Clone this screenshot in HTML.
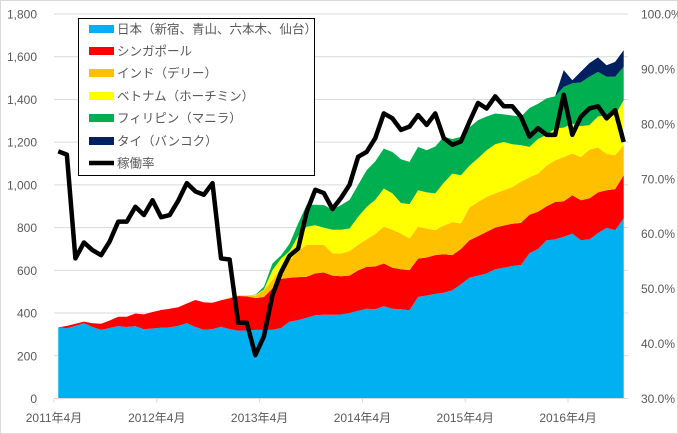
<!DOCTYPE html>
<html><head><meta charset="utf-8">
<style>
body{margin:0;background:#fff;}
svg{display:block;font-family:"Liberation Sans","Noto Sans CJK JP",sans-serif;}
</style></head>
<body>
<svg id="chart" width="678" height="434" viewBox="0 0 678 434">
<rect x="0.5" y="0.5" width="677" height="433" fill="#fff" stroke="#d9d9d9"/>
<g id="grid"></g><g id="areas"></g><g id="line"></g><g id="axes"></g><g id="legend"></g>
</svg>
<script>
const months = [];
for (let y = 2011, m = 4; months.length < 67; ) { months.push(y + '年' + m + '月'); m++; if (m > 12) { m = 1; y++; } }
const japan = [333,329,340,352,335,321,330,339,335,339,324,328,331,333,340,352,335,321,325,336,325,318,319,321,321,321,330,360,367,378,390,392,392,393,400,410,420,418,432,420,418,413,476,482,490,495,507,535,565,575,585,605,612,620,625,680,700,740,745,757,772,741,745,775,799,788,843];
const singapore = [0,11,10,8,17,29,35,44,48,59,70,77,83,87,87,93,126,129,123,124,144,162,159,149,154,194,230,205,201,192,196,198,183,179,175,190,196,200,200,192,187,188,179,178,181,180,164,165,176,185,195,195,198,198,197,180,174,160,175,166,179,187,192,190,176,192,202];
const india = [0,0,0,0,0,0,0,0,0,0,0,0,0,0,0,0,0,0,0,0,3,2,4,10,33,39,50,80,122,149,133,130,105,107,115,120,129,152,172,178,167,148,149,135,117,135,154,119,154,160,164,160,165,172,192,175,179,190,195,207,196,202,228,210,170,159,141];
const vietnam = [0,0,0,0,0,0,0,0,0,0,0,0,0,0,0,0,0,0,0,0,0,0,1,4,2,47,45,45,70,85,92,80,110,111,106,130,152,160,179,170,143,161,171,170,172,200,228,226,195,205,218,230,226,200,172,143,162,145,149,138,140,145,115,145,181,187,211];
const philippines = [0,0,0,0,0,0,0,0,0,0,0,0,0,0,0,0,0,0,0,0,0,0,0,2,13,31,15,35,60,103,96,105,95,115,134,150,172,180,187,194,205,198,203,197,220,215,162,180,180,178,158,144,129,135,133,182,165,170,151,191,188,205,226,209,180,180,156];
const thailand = [0,0,0,0,0,0,0,0,0,0,0,0,0,0,0,0,0,0,0,0,0,0,0,0,0,0,0,0,0,0,0,0,0,0,0,0,0,0,0,0,0,0,0,0,0,0,0,0,0,0,0,0,0,0,0,0,0,0,0,78,15,50,64,68,54,70,78];
const occupancy = [75.0,74.4,55.5,58.4,57.0,56.1,58.6,62.2,62.2,64.9,63.4,66.1,63.0,63.4,66.0,69.2,67.7,67.1,69.2,55.5,55.3,43.8,43.8,37.9,41.3,48.8,53.0,56.0,57.3,64.0,68.0,67.4,64.5,66.5,68.9,74.0,74.9,77.4,81.9,81.0,78.9,79.5,81.6,79.8,81.9,77.4,76.2,76.8,80.4,83.8,82.8,85.0,83.2,83.2,81.3,77.7,79.2,78.0,78.0,85.3,78.0,81.3,82.8,83.2,81.0,82.5,76.7];
const leftTicks = [0,200,400,600,800,1000,1200,1400,1600,1800];
const rightTicks = [30,40,50,60,70,80,90,100];
const xTickLabels = ['2011年4月','2012年4月','2013年4月','2014年4月','2015年4月','2016年4月'];

const seriesNames = ['日本（新宿、青山、六本木、仙台）','シンガポール','インド（デリー）','ベトナム（ホーチミン）','フィリピン（マニラ）','タイ（バンコク）'];
const seriesColors = ['#00b0f0','#ff0000','#ffc000','#ffff00','#00b050','#002060'];
const seriesKeys = ['japan','singapore','india','vietnam','philippines','thailand'];
const series = [japan, singapore, india, vietnam, philippines, thailand];

const NS = 'http://www.w3.org/2000/svg';
const X0 = 54, STEP = 8.567, YB = 398.5, YT = 14;
const xS = i => X0 + (i + 0.5) * STEP;
const yL = v => YB - (v / 1800) * (YB - YT);
const yR = p => YB - ((p - 30) / 70) * (YB - YT);
function mk(tag, attrs, parent) { const e = document.createElementNS(NS, tag); for (const k in attrs) e.setAttribute(k, attrs[k]); parent.appendChild(e); return e; }

const grid = document.getElementById('grid'), axes = document.getElementById('axes');
const xEnd = X0 + STEP * 67;
leftTicks.forEach(v => {
  if (v > 0) {
    const g = mk('line', {x1: X0, x2: xEnd, y1: yL(v), y2: yL(v), stroke: '#d9d9d9', 'stroke-width': 1}, grid);
    
    
  }
  const t = mk('text', {x: 37, y: yL(v) + 4.5, 'text-anchor': 'end', 'font-size': 12, fill: '#595959'}, axes);
  t.textContent = v.toLocaleString('en-US');
  
  
});
rightTicks.forEach(p => {
  const t = mk('text', {x: 641, y: yR(p) + 4.5, 'font-size': 12, fill: '#595959'}, axes);
  t.textContent = p.toFixed(1) + '%';
  
  
});
const xl = mk('line', {x1: X0, x2: xEnd, y1: YB, y2: YB, stroke: '#d9d9d9', 'stroke-width': 1}, axes);


xTickLabels.forEach((lab, k) => {
  const x = X0 + k * 12 * STEP;
  const tk = mk('line', {x1: x, x2: x, y1: YB, y2: YB + 4, stroke: '#d9d9d9'}, axes);
  
  
  const t = mk('text', {x: x, y: 422, 'text-anchor': 'middle', 'font-size': 12, fill: '#595959'}, axes);
  t.textContent = lab;
  
  
});

const areas = document.getElementById('areas');
const cum = months.map(() => 0);
series.forEach((s, si) => {
  const lower = cum.slice();
  s.forEach((v, i) => cum[i] += v);
  let d = '';
  cum.forEach((v, i) => d += (i ? 'L' : 'M') + xS(i).toFixed(2) + ',' + yL(v).toFixed(2));
  for (let i = lower.length - 1; i >= 0; i--) d += 'L' + xS(i).toFixed(2) + ',' + yL(lower[i]).toFixed(2);
  const p = mk('path', {d: d + 'Z', fill: seriesColors[si]}, areas);
  
  
});

const lineG = document.getElementById('line');
let ld = '';
occupancy.forEach((p, i) => ld += (i ? 'L' : 'M') + xS(i).toFixed(2) + ',' + yR(p).toFixed(2));
const ln = mk('path', {d: ld, fill: 'none', stroke: '#000', 'stroke-width': 4.5, 'stroke-linejoin': 'round'}, lineG);



const lg = document.getElementById('legend');
const box = mk('rect', {x: 78.5, y: 18.5, width: 236, height: 157, fill: '#fff', stroke: '#000', 'stroke-width': 1}, lg);


const rowsY = [29, 51, 73, 96, 118, 141, 163];
seriesNames.forEach((nm, k) => {
  const r = mk('rect', {x: 89, y: rowsY[k] - 4, width: 25, height: 8, fill: seriesColors[k]}, lg);
  
  
  const t = mk('text', {x: 117, y: rowsY[k] + 4.5, 'font-size': 12.5, fill: '#595959'}, lg);
  t.textContent = nm;
  
  
});
const ll = mk('line', {x1: 89, x2: 114, y1: rowsY[6], y2: rowsY[6], stroke: '#000', 'stroke-width': 4.5}, lg);


const lt = mk('text', {x: 117, y: rowsY[6] + 4.5, 'font-size': 12.5, fill: '#595959'}, lg);
lt.textContent = '稼働率';


</script>
</body></html>
